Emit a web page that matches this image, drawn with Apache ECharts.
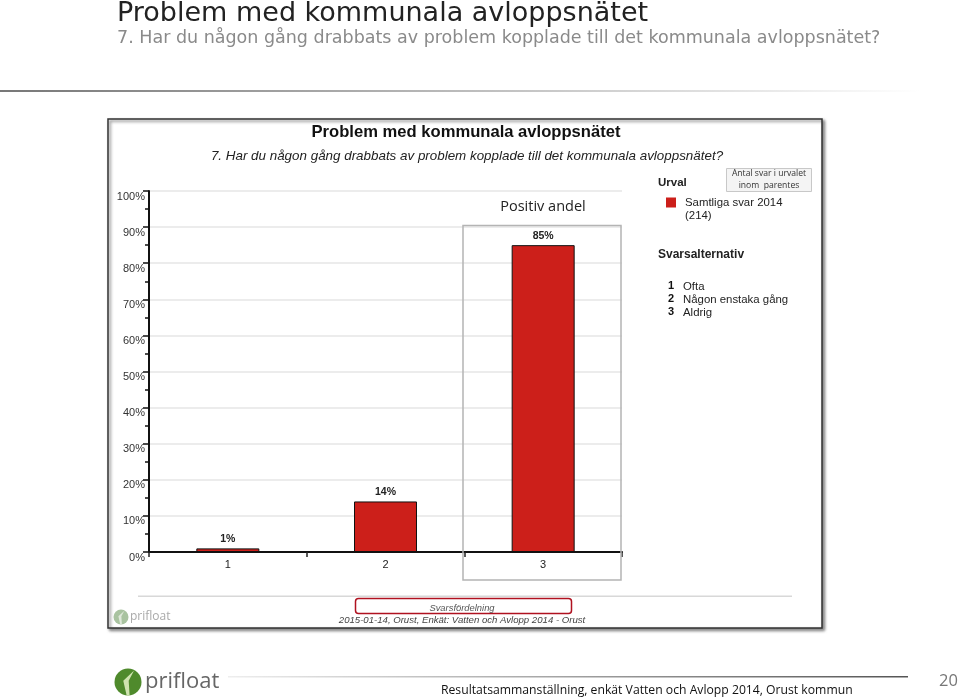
<!DOCTYPE html>
<html lang="sv">
<head>
<meta charset="UTF-8">
<title>Problem med kommunala avloppsnätet</title>
<script src="https://cdn.jsdelivr.net/npm/echarts@6/dist/echarts.min.js"></script>
<style>
  html, body { margin: 0; padding: 0; background: #fff; }
  #viz { width: 960px; height: 700px; }
</style>
</head>
<body>
<div id="viz"></div>
<script>
const categories = ['1', '2', '3'];
const seriesName = 'Samtliga svar 2014';
const values = [1, 14, 85];
const answerKeys = ['1', '2', '3'];
const answerNames = ['Ofta', 'Någon enstaka gång', 'Aldrig'];

const chartFont = '"Liberation Sans", Arial, sans-serif';
const slideFont = '"Open Sans", sans-serif';
const red = '#cc1f1a';

const txt = (x, y, text, style) => ({
  type: 'text', x, y, z: 100, silent: true,
  style: Object.assign({ text, fontFamily: chartFont, fill: '#222', verticalAlign: 'middle' }, style)
});

// round logo with a pale leaf, then the word mark
const logo = (cx, cy, r, textX, size, color, c1, c2) => [
  { type: 'circle', z: 100, silent: true, shape: { cx, cy, r }, style: { fill: c1 } },
  { type: 'polygon', z: 101, silent: true,
    shape: { points: [[cx - r * 0.1, cy + r], [cx - r * 0.35, cy - r * 0.1], [cx + r * 0.45, cy - r * 0.85], [cx + r * 0.05, cy - r * 0.1], [cx + r * 0.12, cy + r]] },
    style: { fill: c2 } },
  txt(textX, cy, 'prifloat', { fontFamily: slideFont, fontSize: size, fill: color })
];

const answerRows = answerNames.flatMap((name, i) => {
  const y = 287 + i * 13;
  return [
    txt(668, y - 1, answerKeys[i], { fontSize: 11, fontWeight: 'bold', fill: '#111' }),
    txt(683, y, name, { fontSize: 11.4, fill: '#222' })
  ];
});

const option = {
  animation: false,
  backgroundColor: '#fff',
  grid: { left: 149, right: 338, top: 191, bottom: 148 },
  legend: {
    data: [seriesName],
    left: 661,
    top: 192,
    icon: 'rect',
    itemWidth: 10,
    itemHeight: 10,
    itemGap: 0,
    itemStyle: { borderWidth: 0 },
    textStyle: { fontFamily: chartFont, fontSize: 11.4, color: '#222', padding: [0, 0, 0, 4] }
  },
  xAxis: {
    type: 'category',
    data: categories,
    axisLine: { lineStyle: { color: '#111', width: 2 } },
    axisTick: { show: true, length: 5, alignWithLabel: false, lineStyle: { color: '#222', width: 1.5 } },
    axisLabel: { color: '#222', fontFamily: chartFont, fontSize: 11, margin: 7 }
  },
  yAxis: {
    type: 'value',
    min: 0,
    max: 100,
    interval: 10,
    axisLine: { show: true, lineStyle: { color: '#111', width: 2 } },
    axisTick: { show: true, length: 6, lineStyle: { color: '#111', width: 1.5 } },
    minorTick: { show: true, splitNumber: 2, length: 4, lineStyle: { color: '#111', width: 1.5 } },
    axisLabel: {
      color: '#333', fontFamily: chartFont, fontSize: 11, margin: 4,
      verticalAlign: 'top',
      formatter: '{value}%'
    },
    splitLine: { show: true, lineStyle: { color: '#e6e6e6', width: 1.5 } }
  },
  series: [{
    name: seriesName,
    type: 'bar',
    data: values,
    barWidth: 63,
    itemStyle: { color: red, borderColor: '#111', borderWidth: 1 },
    label: {
      show: true,
      position: 'top',
      distance: 4,
      formatter: '{c}%',
      fontFamily: chartFont,
      fontSize: 10.5,
      fontWeight: 'bold',
      color: '#222'
    }
  }],
  graphic: { elements: [
    // slide heading
    txt(117, 14, 'Problem med kommunala avloppsnätet', { fontFamily: '"DejaVu Sans", sans-serif', fontSize: 27, fill: '#222' }),
    txt(117, 38, '7. Har du någon gång drabbats av problem kopplade till det kommunala avloppsnätet?', { fontFamily: '"DejaVu Sans", sans-serif', fontSize: 17.5, fill: '#8a8a8a' }),
    { type: 'rect', z: 100, silent: true, shape: { x: 0, y: 90, width: 920, height: 2 },
      style: { fill: new echarts.graphic.LinearGradient(0, 0, 1, 0, [
        { offset: 0, color: '#777' }, { offset: 0.5, color: '#bbb' }, { offset: 1, color: '#fff' }]) } },

    // screenshot panel
    { type: 'rect', z: -10, silent: true, shape: { x: 108, y: 119, width: 714, height: 509 },
      style: { fill: '#fff', stroke: '#333', lineWidth: 1.5, shadowBlur: 3, shadowOffsetX: 2, shadowOffsetY: 2, shadowColor: '#777' } },
    txt(466, 132, 'Problem med kommunala avloppsnätet', { fontSize: 16.6, fontWeight: 'bold', fill: '#111', align: 'center' }),
    txt(467, 156, '7. Har du någon gång drabbats av problem kopplade till det kommunala avloppsnätet?', { fontSize: 13.4, fontStyle: 'italic', fill: '#222', align: 'center' }),

    // highlighted positive share
    { type: 'rect', z: 90, silent: true, shape: { x: 463, y: 225.5, width: 158, height: 354.5 },
      style: { fill: 'none', stroke: '#b4b4b4', lineWidth: 1.5 } },
    txt(543, 207, 'Positiv andel', { fontFamily: slideFont, fontSize: 14.5, fill: '#222', align: 'center' }),

    // right column
    txt(658, 183, 'Urval', { fontSize: 11.5, fontWeight: 'bold', fill: '#222' }),
    { type: 'rect', z: 95, silent: true, shape: { x: 726.5, y: 168.5, width: 85, height: 23 },
      style: { fill: '#f4f4f4', stroke: '#c8c8c8', lineWidth: 1 } },
    txt(769, 174, 'Antal svar i urvalet', { fontFamily: slideFont, fontSize: 8.6, fill: '#333', align: 'center' }),
    txt(769, 186, 'inom  parentes', { fontFamily: slideFont, fontSize: 8.6, fill: '#333', align: 'center' }),
    txt(685, 215.5, '(214)', { fontSize: 11.4, fill: '#222' }),
    txt(658, 255, 'Svarsalternativ', { fontSize: 12, fontWeight: 'bold', fill: '#222' }),
    ...answerRows,

    // panel footer
    { type: 'rect', z: 100, silent: true, shape: { x: 138, y: 595.5, width: 654, height: 1.5 }, style: { fill: '#d8d8d8' } },
    { type: 'rect', z: 100, silent: true, shape: { x: 355.5, y: 598.5, width: 216, height: 15, r: 3 },
      style: { fill: '#fff', stroke: '#b01220', lineWidth: 1.5 } },
    txt(462, 608, 'Svarsfördelning', { fontSize: 9.4, fontStyle: 'italic', fill: '#555', align: 'center' }),
    txt(462, 620, '2015-01-14, Orust, Enkät: Vatten och Avlopp 2014 - Orust', { fontSize: 9.6, fontStyle: 'italic', fill: '#444', align: 'center' }),
    ...logo(121, 617, 7.5, 130, 12, '#aaa', '#a9c3a0', '#dfe8da'),

    // slide footer
    ...logo(128, 682, 13.5, 145, 22, '#666', '#4f8a2c', '#cfe3b0'),
    { type: 'rect', z: 100, silent: true, shape: { x: 228, y: 676, width: 680, height: 1.5 },
      style: { fill: new echarts.graphic.LinearGradient(0, 0, 1, 0, [
        { offset: 0, color: '#eee' }, { offset: 1, color: '#555' }]) } },
    txt(441, 691, 'Resultatsammanställning, enkät Vatten och Avlopp 2014, Orust kommun', { fontFamily: slideFont, fontSize: 12.2, fill: '#111' }),
    txt(939, 681, '20', { fontFamily: slideFont, fontSize: 16.5, fill: '#777' })
  ] }
};

const chart = echarts.init(document.getElementById('viz'), null, { renderer: 'canvas' });
chart.setOption(option);
</script>
</body>
</html>
